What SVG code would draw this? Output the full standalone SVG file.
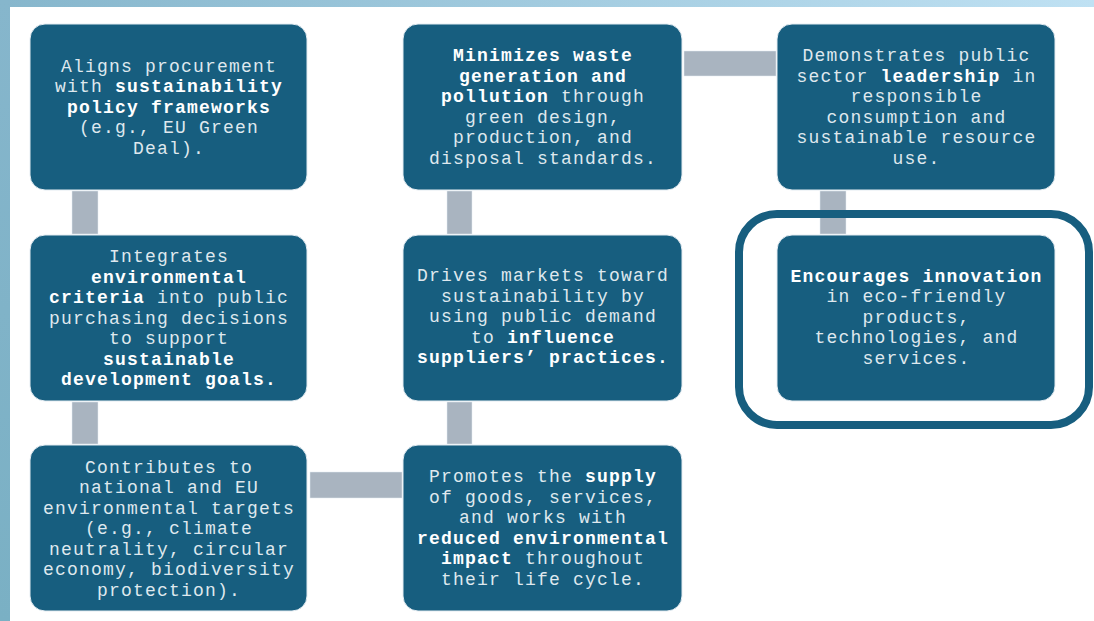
<svg xmlns="http://www.w3.org/2000/svg" width="1094" height="621" viewBox="0 0 1094 621">
<defs>
<linearGradient id="topband" x1="0" y1="0" x2="1" y2="0">
<stop offset="0" stop-color="#86b6cc"/>
<stop offset="1" stop-color="#bfe1f3"/>
</linearGradient>
<linearGradient id="leftband" x1="0" y1="0" x2="0" y2="1">
<stop offset="0" stop-color="#86b6cc"/>
<stop offset="1" stop-color="#7ab0c4"/>
</linearGradient>
</defs>
<style>
.box{fill:#175e7f;stroke:#e4ecf2;stroke-width:1}
.conn{fill:#a9b4c0;stroke:#e4ecf2;stroke-width:0.5}
.t{font-family:"Liberation Mono","Courier New",monospace;font-size:18px;letter-spacing:1.2px;fill:#dfe8ee;text-anchor:middle}
.b{font-weight:bold;fill:#ffffff}
.ring{fill:none;stroke:#175e7f;stroke-width:8}
</style>
<rect x="0" y="0" width="1094" height="621" fill="#ffffff"/>
<rect x="0" y="0" width="1094" height="7" fill="url(#topband)"/>
<rect x="0" y="0" width="10" height="621" fill="url(#leftband)"/>

<g id="connectors">
<rect class="conn" x="72" y="191" width="26" height="43"/>
<rect class="conn" x="72" y="402" width="26" height="42"/>
<rect class="conn" x="310" y="472" width="92" height="26"/>
<rect class="conn" x="447" y="191" width="25" height="43"/>
<rect class="conn" x="447" y="402" width="25" height="42"/>
<rect class="conn" x="684" y="51" width="92" height="25"/>
<rect class="conn" x="820" y="191" width="26" height="43"/>
</g>

<g id="node-aligns">
<rect class="box" x="30" y="24" width="277" height="166" rx="15"/>
<text class="t"><tspan x="169" y="71.5">Aligns procurement</tspan><tspan x="169" y="92">with <tspan class="b">sustainability</tspan></tspan><tspan x="169" y="112.5" class="b">policy frameworks</tspan><tspan x="169" y="133">(e.g., EU Green</tspan><tspan x="169" y="153.5">Deal).</tspan></text>
</g>

<g id="node-integrates">
<rect class="box" x="30" y="235" width="277" height="166" rx="15"/>
<text class="t"><tspan x="169" y="262">Integrates</tspan><tspan x="169" y="282.5" class="b">environmental</tspan><tspan x="169" y="303"><tspan class="b">criteria</tspan> into public</tspan><tspan x="169" y="323.5">purchasing decisions</tspan><tspan x="169" y="344">to support</tspan><tspan x="169" y="364.5" class="b">sustainable</tspan><tspan x="169" y="385" class="b">development goals.</tspan></text>
</g>

<g id="node-contributes">
<rect class="box" x="30" y="445" width="277" height="166" rx="15"/>
<text class="t"><tspan x="169" y="472.5">Contributes to</tspan><tspan x="169" y="493">national and EU</tspan><tspan x="169" y="513.5">environmental targets</tspan><tspan x="169" y="534">(e.g., climate</tspan><tspan x="169" y="554.5">neutrality, circular</tspan><tspan x="169" y="575">economy, biodiversity</tspan><tspan x="169" y="595.5">protection).</tspan></text>
</g>

<g id="node-minimizes">
<rect class="box" x="403" y="24" width="279" height="166" rx="15"/>
<text class="t"><tspan x="543" y="61" class="b">Minimizes waste</tspan><tspan x="543" y="81.5" class="b">generation and</tspan><tspan x="543" y="102"><tspan class="b">pollution</tspan> through</tspan><tspan x="543" y="122.5">green design,</tspan><tspan x="543" y="143">production, and</tspan><tspan x="543" y="163.5">disposal standards.</tspan></text>
</g>

<g id="node-drives">
<rect class="box" x="403" y="235" width="279" height="166" rx="15"/>
<text class="t"><tspan x="543" y="281">Drives markets toward</tspan><tspan x="543" y="301.5">sustainability by</tspan><tspan x="543" y="322">using public demand</tspan><tspan x="543" y="342.5">to <tspan class="b">influence</tspan></tspan><tspan x="543" y="363" class="b">suppliers’ practices.</tspan></text>
</g>

<g id="node-promotes">
<rect class="box" x="403" y="445" width="279" height="166" rx="15"/>
<text class="t"><tspan x="543" y="482">Promotes the <tspan class="b">supply</tspan></tspan><tspan x="543" y="502.5">of goods, services,</tspan><tspan x="543" y="523">and works with</tspan><tspan x="543" y="543.5" class="b">reduced environmental</tspan><tspan x="543" y="564"><tspan class="b">impact</tspan> throughout</tspan><tspan x="543" y="584.5">their life cycle.</tspan></text>
</g>

<g id="node-demonstrates">
<rect class="box" x="777" y="24" width="278" height="166" rx="15"/>
<text class="t"><tspan x="916.5" y="61">Demonstrates public</tspan><tspan x="916.5" y="81.5">sector <tspan class="b">leadership</tspan> in</tspan><tspan x="916.5" y="102">responsible</tspan><tspan x="916.5" y="122.5">consumption and</tspan><tspan x="916.5" y="143">sustainable resource</tspan><tspan x="916.5" y="163.5">use.</tspan></text>
</g>

<g id="node-encourages">
<rect class="ring" x="739" y="214" width="350" height="211" rx="38"/>
<rect class="box" x="777" y="235" width="278" height="166" rx="15"/>
<text class="t"><tspan x="916.5" y="281.5" class="b">Encourages innovation</tspan><tspan x="916.5" y="302">in eco-friendly</tspan><tspan x="916.5" y="322.5">products,</tspan><tspan x="916.5" y="343">technologies, and</tspan><tspan x="916.5" y="363.5">services.</tspan></text>
</g>
</svg>
